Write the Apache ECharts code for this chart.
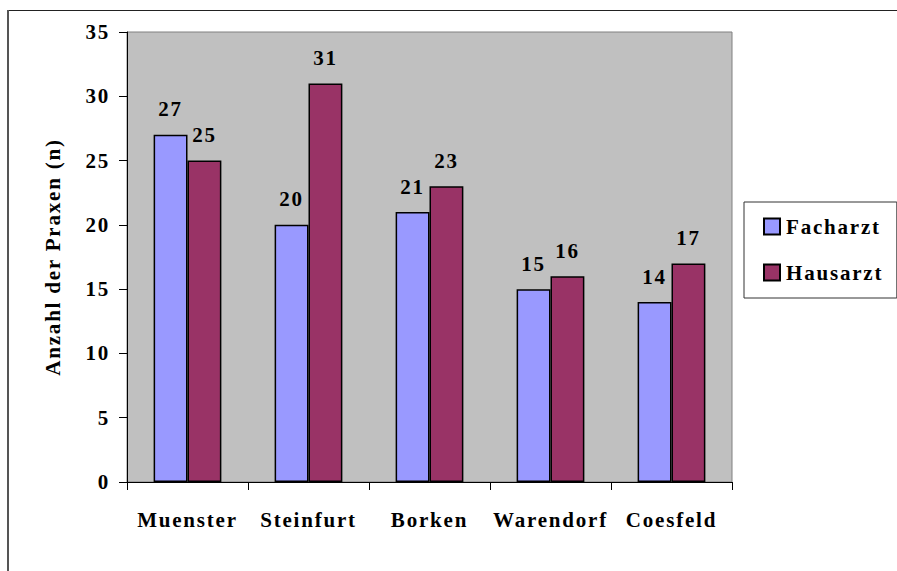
<!DOCTYPE html>
<html>
<head>
<meta charset="utf-8">
<script src="https://cdn.jsdelivr.net/npm/echarts@6/dist/echarts.min.js"></script>
<style>
  html, body { margin: 0; padding: 0; background: #fff; }
  #chart { width: 897px; height: 571px; }
  /* the serif labels are set slightly wide */
  #chart svg text {
    font-family: 'Liberation Serif', 'Times New Roman', serif !important;
    font-weight: bold !important;
    letter-spacing: 1.8px;
  }
</style>
</head>
<body>
<div id="chart"></div>
<script>
// Praxen per Kreis, split by type of practice
const categories = ['Muenster', 'Steinfurt', 'Borken', 'Warendorf', 'Coesfeld'];
const facharzt = [27, 20, 21, 15, 14];
const hausarzt = [25, 31, 23, 16, 17];
const seriesNames = ['Facharzt', 'Hausarzt'];
const yMin = 0;
const yMax = 35;
const yStep = 5;

const FONT = 'Liberation Serif';
const textBase = { fontFamily: FONT, fontWeight: 'bold', fontSize: 21, color: '#000' };

const chart = echarts.init(document.getElementById('chart'), null, { renderer: 'svg' });

const barSeries = (name, data, color) => ({
  name: name,
  type: 'bar',
  data: data,
  barGap: '0%',
  barCategoryGap: '44%',
  itemStyle: { color: color, borderColor: '#000', borderWidth: 1.5 },
  label: {
    show: true,
    position: 'top',
    distance: 15,
    ...textBase
  },
  emphasis: { disabled: true }
});

chart.setOption({
  animation: false,
  backgroundColor: '#fff',
  grid: {
    left: 127, top: 32, right: 165, bottom: 89,
    show: true,
    backgroundColor: '#C0C0C0',
    borderColor: '#808080',
    borderWidth: 1
  },
  legend: {
    orient: 'vertical',
    left: 744,
    top: 202,
    padding: [14, 28, 15, 19],
    itemWidth: 16,
    itemHeight: 16,
    itemGap: 25,
    icon: 'rect',
    borderColor: '#333',
    borderWidth: 1,
    backgroundColor: '#fff',
    data: seriesNames,
    textStyle: { ...textBase, lineHeight: 16, padding: [0, 0, 0, 1] }
  },
  xAxis: {
    type: 'category',
    data: categories,
    axisLine: { lineStyle: { color: '#000', width: 1 } },
    axisTick: { show: true, length: 8, alignWithLabel: false, lineStyle: { color: '#000' } },
    axisLabel: { ...textBase, margin: 27, interval: 0 },
    splitLine: { show: false }
  },
  yAxis: {
    type: 'value',
    min: yMin,
    max: yMax,
    interval: yStep,
    name: 'Anzahl der Praxen (n)',
    nameLocation: 'middle',
    nameGap: 64,
    nameRotate: 90,
    nameTextStyle: { ...textBase },
    axisLine: { show: true, lineStyle: { color: '#000', width: 1 } },
    axisTick: { show: true, length: 8, lineStyle: { color: '#000' } },
    axisLabel: { ...textBase, margin: 17 },
    splitLine: { show: false }
  },
  graphic: [
    { type: 'line', silent: true, shape: { x1: 8, y1: 10.5, x2: 897, y2: 10.5 }, style: { stroke: '#222', lineWidth: 1 } },
    { type: 'line', silent: true, shape: { x1: 8, y1: 10, x2: 8, y2: 571 }, style: { stroke: '#555', lineWidth: 2 } }
  ],
  series: [
    barSeries(seriesNames[0], facharzt, '#9999FF'),
    barSeries(seriesNames[1], hausarzt, '#993366')
  ]
});
</script>
</body>
</html>
